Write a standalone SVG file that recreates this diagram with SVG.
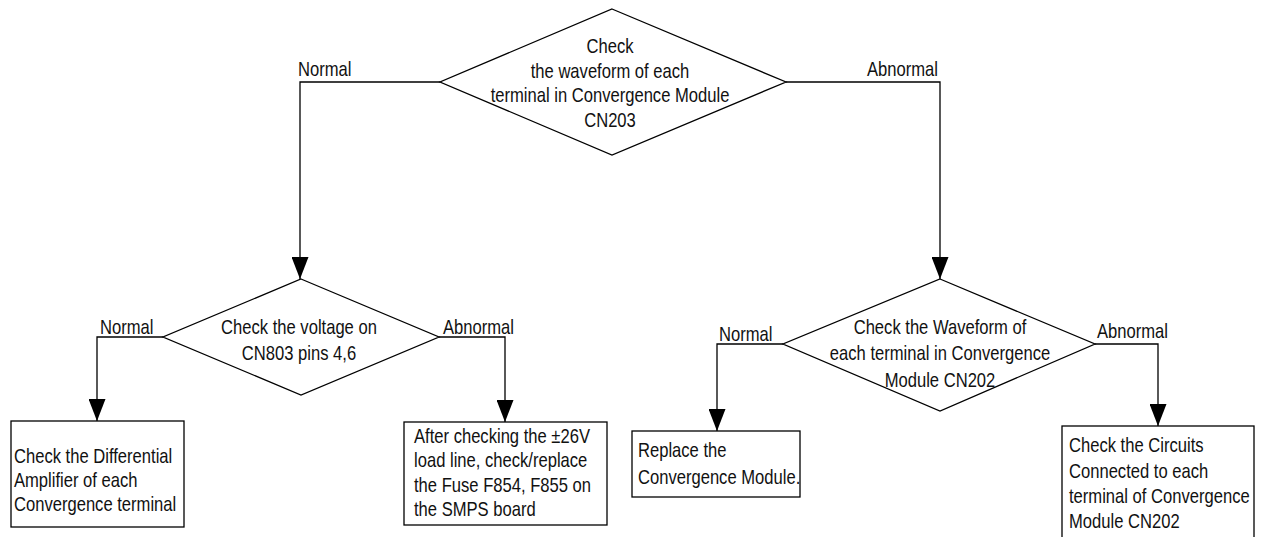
<svg xmlns="http://www.w3.org/2000/svg" width="1263" height="537" viewBox="0 0 1263 537">
<style>
.shape{fill:#fff;stroke:#000;stroke-width:1.3}
.conn{fill:none;stroke:#000;stroke-width:1.3}
text{font-family:"Liberation Sans",Arial,sans-serif;font-size:20px;fill:#111}
.c{text-anchor:middle}
</style>
<defs>
<marker id="arr" markerUnits="userSpaceOnUse" markerWidth="22" markerHeight="17" viewBox="0 0 22 17" refX="22" refY="8.5" orient="auto">
<path d="M0,0 L22,8.5 L0,17 Z" fill="#000"/>
</marker>
</defs>
<rect width="1263" height="537" fill="#fff"/>
<g id="connectors">
<path class="conn" d="M440,82 H300 V279" marker-end="url(#arr)"/>
<path class="conn" d="M786,82 H940 V279" marker-end="url(#arr)"/>
<path class="conn" d="M163,337 H97 V421" marker-end="url(#arr)"/>
<path class="conn" d="M439,337 H505 V422" marker-end="url(#arr)"/>
<path class="conn" d="M783,344 H717 V431" marker-end="url(#arr)"/>
<path class="conn" d="M1095,344 H1158 V426" marker-end="url(#arr)"/>
<g transform="translate(298,0) scale(0.83,1)"><text x="0" y="76">Normal</text></g>
<g transform="translate(867,0) scale(0.83,1)"><text x="0" y="76">Abnormal</text></g>
<g transform="translate(100,0) scale(0.83,1)"><text x="0" y="334">Normal</text></g>
<g transform="translate(443,0) scale(0.83,1)"><text x="0" y="334">Abnormal</text></g>
<g transform="translate(719,0) scale(0.83,1)"><text x="0" y="341">Normal</text></g>
<g transform="translate(1097,0) scale(0.83,1)"><text x="0" y="338">Abnormal</text></g>
</g>
<g id="d1">
<polygon class="shape" points="612,9 786,82 612,155 440,82"/>
<g transform="translate(610,0) scale(0.83,1)">
<text class="c" x="0" y="53">Check</text>
<text class="c" x="0" y="78">the waveform of each</text>
<text class="c" x="0" y="102.5">terminal in Convergence Module</text>
<text class="c" x="0" y="127">CN203</text>
</g>
</g>
<g id="d2">
<polygon class="shape" points="301,279 439,337 301,395 163,337"/>
<g transform="translate(299,0) scale(0.83,1)">
<text class="c" x="0" y="334">Check the voltage on</text>
<text class="c" x="0" y="360">CN803 pins 4,6</text>
</g>
</g>
<g id="d3">
<polygon class="shape" points="940,279 1095,344 940,411 783,344"/>
<g transform="translate(940,0) scale(0.83,1)">
<text class="c" x="0" y="334">Check the Waveform of</text>
<text class="c" x="0" y="360">each terminal in Convergence</text>
<text class="c" x="0" y="387">Module CN202</text>
</g>
</g>
<g id="b1">
<rect class="shape" x="11" y="421" width="173" height="106"/>
<g transform="translate(14,0) scale(0.83,1)">
<text x="0" y="463">Check the Differential</text>
<text x="0" y="487">Amplifier of each</text>
<text x="0" y="511">Convergence terminal</text>
</g>
</g>
<g id="b2">
<rect class="shape" x="404" y="422" width="203" height="103"/>
<g transform="translate(414,0) scale(0.83,1)">
<text x="0" y="443">After checking the ±26V</text>
<text x="0" y="467">load line, check/replace</text>
<text x="0" y="492">the Fuse F854, F855 on</text>
<text x="0" y="516">the SMPS board</text>
</g>
</g>
<g id="b3">
<rect class="shape" x="632" y="431" width="168" height="66"/>
<g transform="translate(638,0) scale(0.83,1)">
<text x="0" y="457">Replace the</text>
<text x="0" y="484">Convergence Module.</text>
</g>
</g>
<g id="b4">
<rect class="shape" x="1062" y="426" width="192" height="130"/>
<g transform="translate(1069,0) scale(0.83,1)">
<text x="0" y="452">Check the Circuits</text>
<text x="0" y="478">Connected to each</text>
<text x="0" y="503">terminal of Convergence</text>
<text x="0" y="528">Module CN202</text>
</g>
</g>
</svg>
